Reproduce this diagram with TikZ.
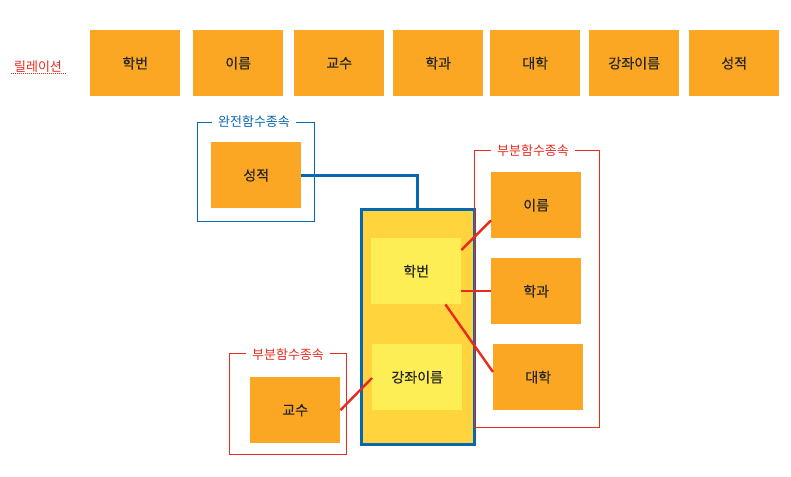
\documentclass[tikz,border=0pt]{standalone}
\usepackage{fontspec}
\setmainfont{Noto Sans CJK KR}
\newfontfamily\boxfont[FakeBold=0.4]{Noto Sans CJK KR}
\usetikzlibrary{positioning}
\definecolor{attrorange}{HTML}{FBA724}
\definecolor{keygold}{HTML}{FFD43C}
\definecolor{keyyellow}{HTML}{FDEE55}
\definecolor{depblue}{HTML}{0767B1}
\definecolor{depred}{HTML}{E92A1E}

\begin{document}
\begin{tikzpicture}[x=1pt, y=-1pt,
  attr/.style={fill=attrorange, minimum width=90pt, minimum height=66pt,
    inner sep=0pt, anchor=north west, font=\boxfont\fontsize{14}{16}\selectfont, text=black!85},
  keyattr/.style={attr, fill=keyyellow},
  frame/.style={line width=1pt},
  framelabel/.style={fill=white, inner xsep=6pt, inner ysep=1pt, font=\fontsize{13}{15}\selectfont},
  fdline/.style={depred, line width=2.4pt}]
  \useasboundingbox (0,0) rectangle (791,476);

  % relation
  \node[text=depred, font=\fontsize{13}{15}\selectfont] (rel) at (38,67) {릴레이션};
  \draw[depred, line width=0.9pt, dash pattern=on 1pt off 1pt]
    ([yshift=-2pt]rel.base west) -- ([yshift=-2pt]rel.base east);
  \foreach \x/\t/\n in {90/학번/r1, 193/이름/r2, 294/교수/r3, 393/학과/r4,
                        490/대학/r5, 589/강좌이름/r6, 689/성적/r7} {
    \node[attr] (\n) at (\x,30) {\t};
  }

  % full dependency
  \draw[frame, depblue] (197.5,122.5) rectangle (314.5,221.5);
  \node[framelabel, text=depblue] (fullfd) at (254,122) {완전함수종속};
  \node[attr] (sj) at (211,142) {성적};

  % key
  \node[fill=keygold, draw=depblue, line width=3pt, minimum width=113pt,
    minimum height=235pt, inner sep=0pt, anchor=north west] (key) at (359.5,207.5) {};
  \node[keyattr] (hb) at (371,238) {학번};
  \node[keyattr] (gj) at (372,344) {강좌이름};
  \draw[depblue, line width=3pt] (sj.east) -| (key.north);

  % partial dependency
  \draw[frame, depred] (474.5,150.5) rectangle (599.5,427.5);
  \node[framelabel, text=depred] (partfd) at (533,151) {부분함수종속};
  \node[attr] (nm) at (491,172) {이름};
  \node[attr] (hk) at (491,258) {학과};
  \node[attr] (dh) at (493,344) {대학};

  \draw[frame, depred] (229.5,353.5) rectangle (346.5,454.5);
  \node[framelabel, text=depred] (partfd2) at (288,355) {부분함수종속};
  \node[attr] (gs) at (250,377) {교수};

  \draw[fdline] ([yshift=-12pt]hb.north east) -- ([yshift=18pt]nm.south west);
  \draw[fdline] (hb.east |- hk.west) -- (hk.west);
  \draw[fdline] ([xshift=-16pt]hb.south east) -- ([yshift=-28pt]dh.north west);
  \draw[fdline] (gs.east) -- ([yshift=-34pt]gj.north west);
\end{tikzpicture}
\end{document}
